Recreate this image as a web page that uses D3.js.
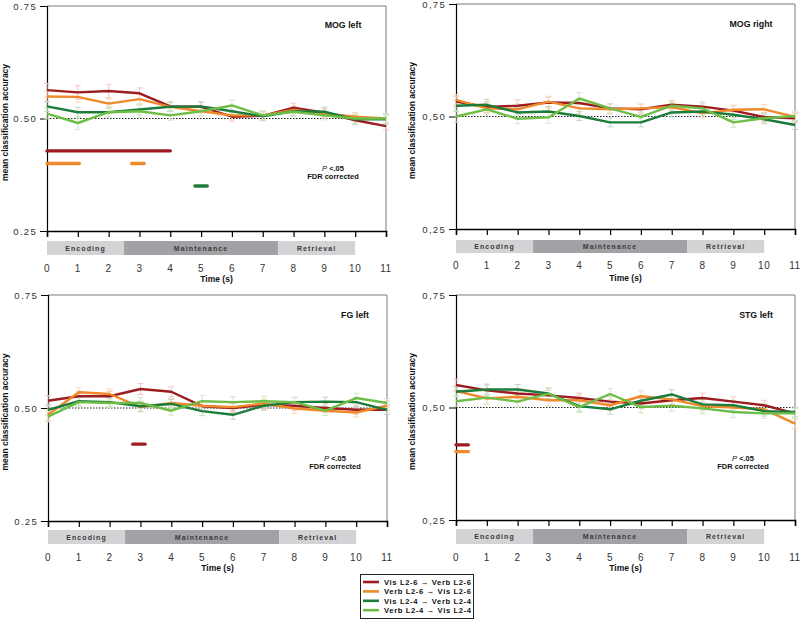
<!DOCTYPE html>
<html><head><meta charset="utf-8">
<script src="https://cdn.jsdelivr.net/npm/d3@7"></script>
<style>body{margin:0;background:#fff}svg{display:block}</style></head>
<body>
<script>
// ---------- DATA ----------
const times = [0,1,2,3,4,5,6,7,8,9,10,11];
const seriesNames = ["Vis L2-6 \u2192 Verb L2-6", "Verb L2-6 \u2192 Vis L2-6", "Vis L2-4 \u2192 Verb L2-4", "Verb L2-4 \u2192 Vis L2-4"];
const panelTitles = ["MOG left", "MOG right", "FG left", "STG left"];
const yTickValues = [0.25, 0.50, 0.75];
const phaseNames = ["Encoding", "Maintenance", "Retrieval"];
const phaseStarts = [0, 2.5, 7.5];
const phaseEnds = [2.5, 7.5, 10];

// means: [Vis26->Verb26, Verb26->Vis26, Vis24->Verb24, Verb24->Vis24]
const mogLeftMeans = [
  [0.563,0.558,0.561,0.556,0.527,0.526,0.504,0.506,0.524,0.513,0.496,0.483],
  [0.549,0.548,0.533,0.543,0.526,0.516,0.507,0.507,0.519,0.511,0.504,0.500],
  [0.527,0.514,0.514,0.520,0.526,0.527,0.516,0.505,0.516,0.515,0.498,0.498],
  [0.511,0.490,0.514,0.516,0.507,0.516,0.529,0.507,0.515,0.507,0.500,0.500]
];
const mogRightMeans = [
  [0.533,0.521,0.524,0.531,0.530,0.518,0.516,0.526,0.522,0.513,0.499,0.496],
  [0.537,0.518,0.516,0.533,0.518,0.516,0.518,0.521,0.507,0.515,0.516,0.499],
  [0.524,0.526,0.509,0.511,0.501,0.487,0.487,0.509,0.511,0.504,0.494,0.481],
  [0.500,0.516,0.495,0.498,0.540,0.518,0.499,0.524,0.518,0.487,0.496,0.501]
];
const fgLeftMeans = [
  [0.516,0.526,0.526,0.542,0.536,0.504,0.500,0.507,0.505,0.500,0.496,0.496],
  [0.485,0.535,0.531,0.502,0.511,0.505,0.502,0.510,0.499,0.494,0.490,0.505],
  [0.496,0.515,0.513,0.504,0.509,0.493,0.485,0.505,0.513,0.514,0.513,0.496],
  [0.481,0.513,0.511,0.511,0.494,0.515,0.513,0.515,0.513,0.494,0.522,0.511]
];
const stgLeftMeans = [
  [0.550,0.538,0.531,0.527,0.521,0.513,0.509,0.516,0.521,0.513,0.505,0.487],
  [0.537,0.520,0.524,0.516,0.516,0.505,0.525,0.518,0.503,0.500,0.496,0.464],
  [0.535,0.540,0.540,0.531,0.503,0.496,0.515,0.529,0.507,0.505,0.492,0.490],
  [0.514,0.522,0.513,0.531,0.501,0.530,0.501,0.504,0.498,0.490,0.487,0.487]
];
// standard errors (same layout)
const mogLeftErr = [
  [0.015,0.015,0.015,0.012,0.010,0.010,0.010,0.009,0.010,0.010,0.010,0.008],
  [0.012,0.012,0.011,0.011,0.010,0.010,0.010,0.009,0.009,0.010,0.009,0.009],
  [0.011,0.011,0.011,0.012,0.010,0.010,0.011,0.010,0.009,0.010,0.010,0.010],
  [0.012,0.014,0.012,0.014,0.011,0.010,0.012,0.010,0.010,0.010,0.010,0.011]
];
const mogRightErr = [
  [0.012,0.012,0.013,0.012,0.010,0.010,0.011,0.010,0.010,0.011,0.010,0.010],
  [0.012,0.011,0.012,0.012,0.011,0.011,0.010,0.010,0.010,0.010,0.010,0.010],
  [0.012,0.012,0.011,0.011,0.010,0.010,0.010,0.010,0.010,0.010,0.010,0.010],
  [0.013,0.014,0.011,0.013,0.013,0.011,0.011,0.010,0.010,0.011,0.010,0.011]
];
const fgLeftErr = [
  [0.012,0.011,0.011,0.012,0.011,0.010,0.010,0.010,0.010,0.010,0.010,0.010],
  [0.012,0.011,0.011,0.011,0.010,0.010,0.010,0.010,0.011,0.010,0.010,0.010],
  [0.011,0.010,0.010,0.011,0.010,0.010,0.010,0.010,0.010,0.010,0.010,0.010],
  [0.012,0.010,0.010,0.012,0.010,0.013,0.012,0.011,0.011,0.011,0.011,0.010]
];
const stgLeftErr = [
  [0.013,0.012,0.011,0.011,0.011,0.011,0.011,0.011,0.011,0.011,0.011,0.011],
  [0.012,0.012,0.012,0.012,0.012,0.012,0.012,0.011,0.011,0.011,0.011,0.011],
  [0.011,0.012,0.011,0.011,0.011,0.011,0.011,0.011,0.011,0.011,0.011,0.011],
  [0.011,0.014,0.012,0.013,0.012,0.012,0.013,0.012,0.012,0.012,0.011,0.011]
];
const panelMeans = [mogLeftMeans, mogRightMeans, fgLeftMeans, stgLeftMeans];
const panelErrs = [mogLeftErr, mogRightErr, fgLeftErr, stgLeftErr];

// significance bars: [panel, series, start time, end time, level]
const sigBars = [
  [0, 0, 0, 4, 0.428],
  [0, 1, 0, 1.05, 0.400],
  [0, 1, 2.75, 3.15, 0.400],
  [0, 2, 4.8, 5.2, 0.350],
  [2, 0, 2.75, 3.15, 0.420],
  [3, 0, 0, 0.4, 0.417],
  [3, 1, 0, 0.4, 0.402]
];
const sigPanels = [0, 2, 3];

// ---------- STYLE / LAYOUT ----------
const colors = ["#9c1d20", "#f0892b", "#1c7c3a", "#6dbd47"];
const paleColors = ["#f3c7c2", "#f9d8b8", "#bcd9c2", "#d2e9c4"];
const layouts = [
  {x0:47, x1:386, yTop:6,   yBot:231, bar0:241, bar1:255, tickY:271.5, timeY:281.5, dec:".", tx:343, ty:27.5,  px:333, py:170.5, lx:5},
  {x0:456,x1:795, yTop:4,   yBot:229, bar0:240, bar1:253, tickY:269,   timeY:280.5, dec:",", tx:751, ty:27,    px:0,   py:0,     lx:412},
  {x0:48, x1:387, yTop:295, yBot:521, bar0:530, bar1:544, tickY:560.5, timeY:571,   dec:".", tx:355, ty:318,   px:335, py:460.5, lx:5},
  {x0:456,x1:795, yTop:295, yBot:520, bar0:529, bar1:544, tickY:560.5, timeY:570.5, dec:",", tx:756, ty:317.5, px:743, py:460.5, lx:412}
];
const FONT = "'Liberation Sans', Arial, Helvetica, sans-serif";

const svg = d3.select("body").append("svg").attr("width", 800).attr("height", 619)
  .style("font-family", FONT);

panelMeans.forEach((means, pi) => {
  const L = layouts[pi];
  const errs = panelErrs[pi];
  const x = d3.scaleLinear().domain([0, 11]).range([L.x0, L.x1]);
  const y = d3.scaleLinear().domain([0.25, 0.75]).range([L.yBot, L.yTop]);
  const g = svg.append("g");

  // frame top & right (gray)
  g.append("path").attr("d", `M${L.x0},${L.yTop}H${L.x1}V${L.yBot}`)
    .attr("fill", "none").attr("stroke", "#7a7a7a").attr("stroke-width", 1);

  // y axis
  const yAxis = d3.axisLeft(y).tickValues(yTickValues).tickSize(7).tickPadding(3)
    .tickFormat(d => d3.format(".2f")(d).replace(".", L.dec));
  const ya = g.append("g").attr("transform", `translate(${L.x0},0)`).call(yAxis);
  ya.select(".domain").attr("stroke", "#000").attr("stroke-width", 1.2);
  ya.selectAll(".tick line").attr("stroke", "#000");
  ya.selectAll(".tick text").attr("font-size", 9.5).attr("letter-spacing", "1.3px")
    .attr("fill", "#333").attr("font-family", FONT);

  // x axis
  const xAxis = d3.axisBottom(x).tickValues(times).tickSize(6).tickFormat("");
  const xa = g.append("g").attr("transform", `translate(0,${L.yBot})`).call(xAxis);
  xa.select(".domain").attr("stroke", "#000").attr("stroke-width", 1.5);
  xa.selectAll(".tick line").attr("stroke", "#000").attr("stroke-width", 1.2);

  // x tick labels below phase bar
  g.selectAll(".xl").data(times).enter().append("text")
    .attr("x", d => x(d)).attr("y", L.tickY).attr("text-anchor", "middle")
    .attr("font-size", 10).attr("fill", "#333").attr("letter-spacing", "0.5px")
    .text(d => d);

  // phase bar
  const phaseFill = ["#d3d3d5", "#a2a2a6", "#d3d3d5"];
  phaseNames.forEach((nm, i) => {
    g.append("rect").attr("x", x(phaseStarts[i])).attr("y", L.bar0)
      .attr("width", x(phaseEnds[i]) - x(phaseStarts[i])).attr("height", L.bar1 - L.bar0)
      .attr("fill", phaseFill[i]);
    g.append("text").attr("x", x((phaseStarts[i] + phaseEnds[i]) / 2))
      .attr("y", (L.bar0 + L.bar1) / 2 + 2.5).attr("text-anchor", "middle")
      .attr("font-size", 7).attr("font-weight", "bold").attr("letter-spacing", "1.1px")
      .attr("fill", "#3a3a3a").text(nm);
  });

  // axis titles
  g.append("text").attr("x", x(5.5)).attr("y", L.timeY).attr("text-anchor", "middle")
    .attr("font-size", 8.5).attr("font-weight", "bold").attr("fill", "#111").text("Time (s)");
  const ly = (L.yTop + L.yBot) / 2 + 4;
  g.append("text").attr("transform", `translate(${L.lx + 3},${ly}) rotate(-90)`)
    .attr("text-anchor", "middle").attr("font-size", 9.2).attr("fill", "#111")
    .attr("font-weight", "bold").attr("textLength", 117).attr("lengthAdjust", "spacingAndGlyphs")
    .text("mean classification accuracy");

  // chance line
  g.append("line").attr("x1", x(0)).attr("x2", x(11)).attr("y1", y(0.5)).attr("y2", y(0.5))
    .attr("stroke", "#222").attr("stroke-width", 1).attr("stroke-dasharray", "1.5,1.5");

  // error bars
  means.forEach((ser, si) => {
    const eg = g.append("g").attr("stroke", paleColors[si]).attr("stroke-width", 1);
    times.forEach((t, k) => {
      const m = ser[k], e = errs[si][k];
      eg.append("line").attr("x1", x(t)).attr("x2", x(t)).attr("y1", y(m - e)).attr("y2", y(m + e));
      eg.append("line").attr("x1", x(t) - 3).attr("x2", x(t) + 3).attr("y1", y(m - e)).attr("y2", y(m - e));
      eg.append("line").attr("x1", x(t) - 3).attr("x2", x(t) + 3).attr("y1", y(m + e)).attr("y2", y(m + e));
    });
  });

  // series lines
  const line = d3.line().x((d, k) => x(times[k])).y(d => y(d));
  means.forEach((ser, si) => {
    g.append("path").attr("d", line(ser)).attr("fill", "none")
      .attr("stroke", colors[si]).attr("stroke-width", 2.4).attr("stroke-linejoin", "round");
  });

  // significance bars
  sigBars.filter(b => b[0] === pi).forEach(b => {
    g.append("line").attr("x1", x(b[2])).attr("x2", x(b[3])).attr("y1", y(b[4])).attr("y2", y(b[4]))
      .attr("stroke", colors[b[1]]).attr("stroke-width", 3.4).attr("stroke-linecap", "round");
  });

  // title
  g.append("text").attr("x", L.tx).attr("y", L.ty).attr("text-anchor", "middle")
    .attr("font-size", 8.8).attr("font-weight", "bold").attr("fill", "#111").text(panelTitles[pi]);

  // p-value note
  if (sigPanels.includes(pi)) {
    const t1 = g.append("text").attr("x", L.px).attr("y", L.py).attr("text-anchor", "middle")
      .attr("font-size", 7.5).attr("font-weight", "bold").attr("fill", "#111");
    t1.append("tspan").attr("font-style", "italic").attr("font-weight", "normal").text("P");
    t1.append("tspan").text(" <.05");
    g.append("text").attr("x", L.px).attr("y", L.py + 8).attr("text-anchor", "middle")
      .attr("font-size", 7.5).attr("font-weight", "bold").attr("fill", "#111").text("FDR corrected");
  }
});

// legend
const lg = svg.append("g");
lg.append("rect").attr("x", 360.5).attr("y", 574.5).attr("width", 113).attr("height", 44)
  .attr("fill", "#fff").attr("stroke", "#222").attr("stroke-width", 1);
seriesNames.forEach((nm, i) => {
  const yy = 582 + i * 9.4;
  lg.append("line").attr("x1", 363).attr("x2", 379).attr("y1", yy).attr("y2", yy)
    .attr("stroke", colors[i]).attr("stroke-width", 2.6);
  lg.append("text").attr("x", 384).attr("y", yy + 3).attr("font-size", 7.6)
    .attr("font-weight", "bold").attr("fill", "#111").attr("textLength", 87)
    .attr("lengthAdjust", "spacing").text(nm);
});
</script>
</body></html>
